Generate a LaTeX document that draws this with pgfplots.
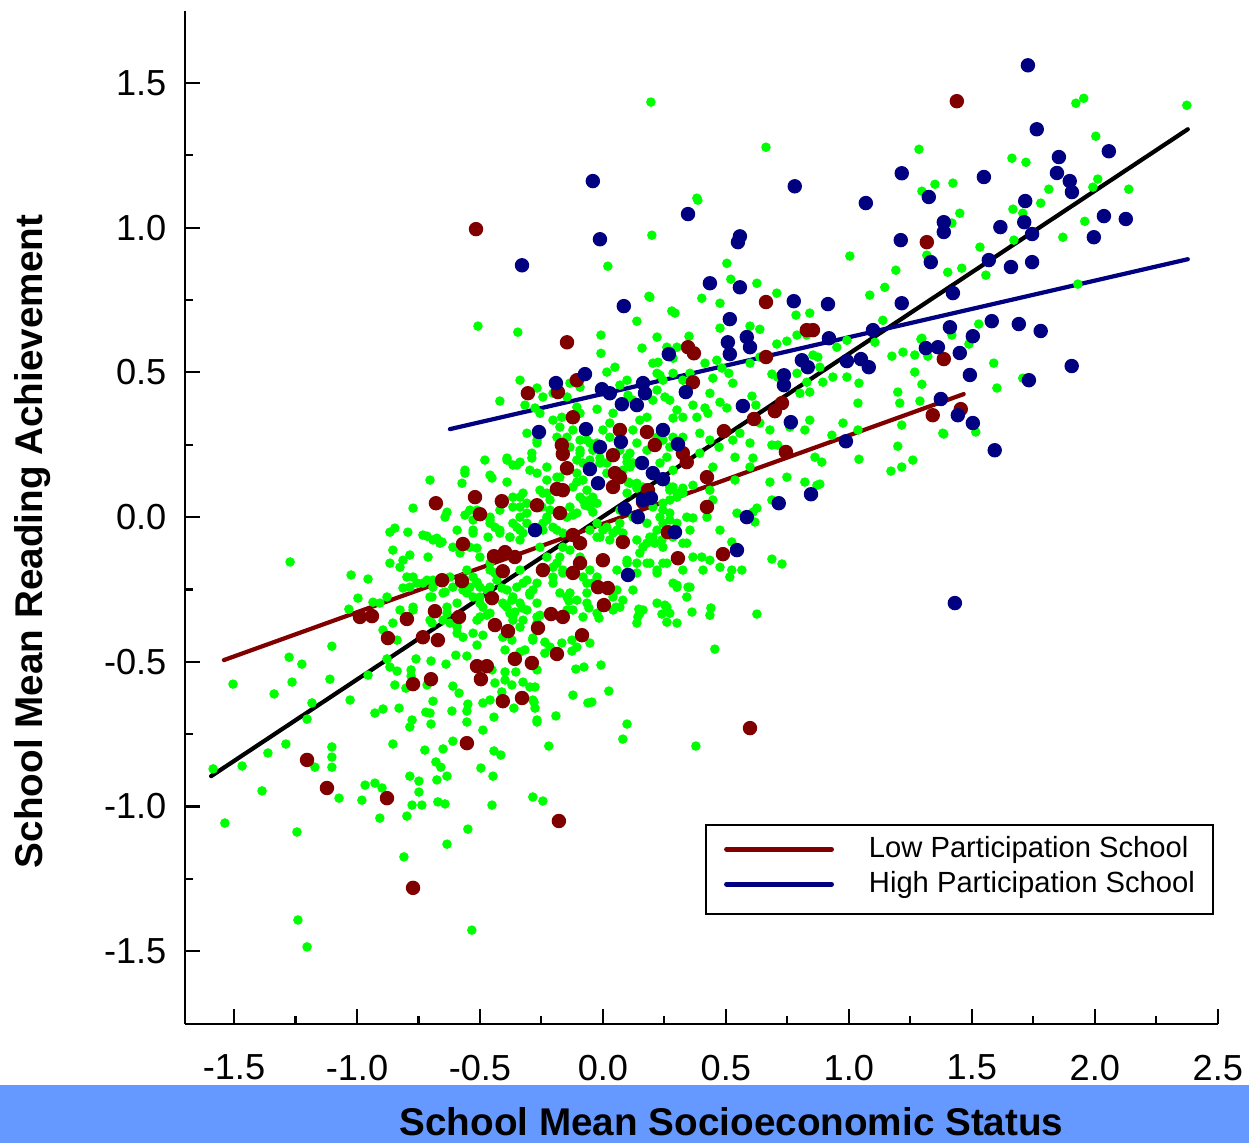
\documentclass[border=0pt]{standalone}
\usepackage{pgfplots}
\pgfplotsset{compat=1.18}
\usepackage{fontspec}
\setmainfont{Liberation Sans}
\definecolor{ptgreen}{RGB}{0,255,0}
\definecolor{ptred}{RGB}{128,0,0}
\definecolor{ptblue}{RGB}{0,0,128}
\definecolor{barblue}{RGB}{102,153,255}
\begin{document}
\begin{tikzpicture}
\fill[barblue] (0mm,-108.5mm) rectangle (124.9mm,-114.3mm);
\node[anchor=base, font=\fontsize{11}{13}\selectfont\bfseries] at (73.15mm,-113.5mm) {School Mean Socioeconomic Status};
\node[anchor=base, rotate=90, font=\fontsize{11}{13}\selectfont\bfseries] at (4.2mm,-54.15mm) {School Mean Reading Achievement};
\begin{axis}[
  at={(18.48mm,-102.36mm)}, anchor=south west,
  scale only axis, width=103.3mm, height=101.3mm,
  xmin=-1.7, xmax=2.5, ymin=-1.75, ymax=1.75,
  axis lines=left, axis line style={-, line width=0.6pt, black},
  xtick={-1.5,-1,-0.5,0,0.5,1,1.5,2,2.5},
  ytick={-1.5,-1,-0.5,0,0.5,1,1.5},
  minor tick num=1,
  tick align=inside,
  major tick length=1.5mm, minor tick length=0.8mm,
  every tick/.style={line width=0.6pt, black},
  ticklabel style={font=\fontsize{10.3}{12}\selectfont},
  xticklabel={\pgfmathprintnumber[fixed,fixed zerofill,precision=1,assume math mode=true]{\tick}},
  yticklabel={\pgfmathprintnumber[fixed,fixed zerofill,precision=1,assume math mode=true]{\tick}},
  xticklabel style={yshift=-1.9mm},
  yticklabel style={xshift=-0.6mm},
  clip=false,
  legend cell align=left,
  legend image code/.code={\draw[#1, line width=1.4pt] (0mm,0.3mm) -- (10.5mm,0.3mm);},
  legend style={at={(0.5036,0.107)}, anchor=south west, draw=black, line width=0.6pt, fill=white,
    inner xsep=1.8mm, inner ysep=1.35mm, font=\fontsize{8.3}{10}\selectfont,
    nodes={inner sep=0pt, text height=1.9mm, text depth=0.8mm},
    row sep=0.8mm, /tikz/every odd column/.append style={column sep=3.5mm}},
]
% all schools (green)
\addplot[only marks, mark=*, mark size=1.15pt, color=ptgreen, forget plot] coordinates {
(-1.272,-0.155) (-1.504,-0.577) (-1.585,-0.870) (-1.537,-1.057) (-1.337,-0.611) (-1.276,-0.484) (-1.224,-0.508) (-1.264,-0.570) (-1.102,-0.446) (-1.110,-0.560)
(-1.183,-0.642) (-1.203,-0.698) (-1.289,-0.784) (-1.362,-0.815) (-1.467,-0.860) (-1.386,-0.946) (-1.244,-1.088) (-1.102,-0.794) (-1.102,-0.829) (-1.102,-0.864)
(-1.171,-0.864) (-1.073,-0.971) (-0.980,-0.978) (-0.967,-0.926) (-0.927,-0.919) (-0.898,-0.936) (-0.907,-1.040) (-1.240,-1.392) (-1.203,-1.485) (-1.028,-0.632)
(-0.955,-0.546) (-0.927,-0.677) (-0.894,-0.663) (-0.829,-0.660) (-0.854,-0.784) (-0.785,-0.895) (-0.748,-0.912) (-0.748,-0.950) (-0.776,-0.995) (-0.736,-0.995)
(-0.797,-1.033) (-0.809,-1.174) (-0.671,-0.984) (-0.642,-0.991) (-0.675,-0.908) (-0.634,-0.895) (-0.679,-0.846) (-0.659,-0.864) (-0.724,-0.805) (-0.650,-0.801)
(-0.610,-0.774) (-0.634,-1.130) (-0.549,-1.078) (-0.533,-1.427) (-0.496,-0.867) (-0.447,-0.895) (-0.451,-0.995) (-0.443,-0.808) (-0.415,-0.822) (-0.285,-0.967)
(-0.785,-0.725) (-0.776,-0.701) (-0.699,-0.715) (-0.720,-0.674) (-0.703,-0.677) (-0.691,-0.636) (-0.715,-0.580) (-0.801,-0.591) (-0.846,-0.580) (-0.837,-0.532)
(-0.866,-0.518) (-0.780,-0.528) (-0.780,-0.549) (-0.699,-0.497) (-0.760,-0.490) (-0.878,-0.490) (-0.614,-0.670) (-0.585,-0.608) (-0.553,-0.670) (-0.549,-0.646)
(-0.553,-0.708) (-0.488,-0.736) (-0.610,-0.584) (-0.638,-0.508) (-0.598,-0.477) (-0.553,-0.480) (-0.488,-0.642) (-0.459,-0.632) (-0.443,-0.691) (-0.451,-0.528)
(-0.398,-0.535) (-0.354,-0.535) (-0.439,-0.573) (-0.398,-0.563) (-0.370,-0.580) (-0.411,-0.604) (-0.325,-0.570) (-0.297,-0.587) (-0.362,-0.660) (-0.285,-0.632)
(-0.268,-0.701) (-0.398,-0.459) (-0.337,-0.466) (-0.317,-0.459) (-0.407,-0.415) (-0.370,-0.425) (-0.285,-0.425) (-0.398,-0.304) (-0.358,-0.328) (-0.329,-0.314)
(-0.370,-0.287) (-0.297,-0.269) (-0.366,-0.356) (-0.337,-0.380) (-0.268,-0.345) (-0.411,-0.245) (-0.439,-0.193) (-0.411,-0.183) (-0.459,-0.242) (-0.500,-0.242)
(-0.488,-0.311) (-0.472,-0.339) (-0.512,-0.356) (-0.528,-0.401) (-0.488,-0.408) (-0.512,-0.442) (-0.593,-0.401) (-0.569,-0.415) (-0.622,-0.366) (-0.593,-0.380)
(-0.650,-0.356) (-0.634,-0.332) (-0.695,-0.276) (-0.642,-0.259) (-0.541,-0.242) (-0.512,-0.225) (-0.528,-0.276) (-0.610,-0.242) (-0.569,-0.252) (-0.703,-0.356)
(-0.622,-0.207) (-0.573,-0.211) (-0.715,-0.218) (-0.691,-0.218) (-0.772,-0.207) (-0.732,-0.228) (-0.813,-0.245) (-0.785,-0.242) (-0.825,-0.321) (-0.772,-0.321)
(-0.894,-0.390) (-0.837,-0.425) (-0.935,-0.294) (-0.996,-0.280) (-1.033,-0.318) (-1.024,-0.200) (-0.955,-0.214) (-0.866,-0.052) (-0.846,-0.038) (-0.793,-0.052)
(-0.813,-0.149) (-0.785,-0.131) (-0.711,-0.138) (-0.715,-0.066) (-0.675,-0.073) (-0.654,-0.086) (-0.610,-0.104) (-0.581,-0.124) (-0.528,-0.055) (-0.541,-0.104)
(-0.512,-0.107) (-0.459,-0.021) (-0.419,-0.055) (-0.378,-0.069) (-0.337,-0.079) (-0.325,-0.055)
(-0.346,0.639) (-0.008,0.629) (0.220,0.622) (0.159,0.584) (-0.008,0.566) (0.260,0.587) (0.285,0.549) (0.203,0.532) (0.049,0.518) (0.016,0.501)
(-0.337,0.473) (-0.268,0.446) (-0.419,0.401) (-0.317,0.387) (-0.276,0.377) (-0.256,0.359) (-0.167,0.345) (-0.024,0.373) (-0.106,0.380) (-0.093,0.359)
(0.098,0.473) (0.069,0.456) (0.102,0.421) (0.122,0.404) (0.232,0.490) (0.252,0.415) (0.272,0.404) (0.150,0.335) (0.179,0.345) (0.122,0.301)
(0.285,0.342) (0.301,0.370) (-0.309,0.290) (-0.268,0.266) (-0.289,0.221) (-0.289,0.204) (-0.390,0.204) (-0.350,0.180) (-0.337,0.190) (-0.480,0.197)
(-0.561,0.162) (-0.561,0.152) (-0.703,0.128) (-0.573,0.117) (-0.459,0.145) (-0.451,0.135) (-0.390,0.121) (-0.228,0.173) (-0.175,0.138) (-0.256,0.093)
(-0.228,0.083) (-0.093,0.221) (-0.081,0.187) (-0.106,0.121) (-0.053,0.197) (-0.012,0.204) (0.016,0.187) (0.098,0.190) (0.110,0.173) (0.102,0.121)
(0.138,0.117) (0.163,0.104) (0.232,0.187) (0.260,0.207) (0.285,0.162) (0.285,0.104) (0.301,0.069) (0.272,0.059) (-0.093,0.069) (-0.073,0.041)
(-0.053,0.059) (-0.024,0.048) (-0.041,0.017) (-0.122,0.007) (-0.215,0.024) (-0.228,0.000) (-0.244,-0.021) (-0.187,-0.045) (-0.163,-0.055) (-0.337,0.069)
(-0.309,0.048) (-0.366,0.035) (-0.337,0.000) (-0.309,-0.021) (-0.350,-0.035) (-0.459,0.000) (-0.439,-0.035) (-0.419,0.024) (-0.541,0.024) (-0.528,-0.010)
(-0.561,0.007) (-0.634,0.017) (-0.642,0.000) (-0.772,0.031) (-0.732,-0.062) (-0.691,-0.079) (-0.663,-0.090) (-0.500,-0.138) (-0.459,-0.159) (-0.553,-0.183)
(-0.528,-0.207) (-0.797,-0.207) (-0.756,-0.228) (-0.691,-0.242) (-0.650,-0.262) (-0.703,-0.276) (-0.772,-0.311) (-0.634,-0.311) (-0.593,-0.297) (-0.553,-0.262)
(-0.500,-0.276) (-0.500,-0.345) (-0.459,-0.332) (-0.390,-0.252) (-0.366,-0.276) (-0.390,-0.311) (-0.337,-0.297) (-0.325,-0.228) (-0.285,-0.252) (-0.268,-0.228)
(-0.366,-0.345) (-0.325,-0.356) (-0.268,-0.366) (-0.203,-0.228) (-0.175,-0.262) (-0.146,-0.276) (-0.203,-0.173) (-0.163,-0.193) (-0.175,-0.138) (-0.256,-0.104)
(-0.228,-0.138) (-0.081,-0.207) (-0.041,-0.228) (-0.065,-0.262) (-0.122,-0.321) (-0.081,-0.345) (-0.024,-0.332) (0.041,-0.276) (0.069,-0.311) (0.122,-0.252)
(0.098,-0.149) (0.138,-0.159) (0.150,-0.124) (0.179,-0.090) (0.203,-0.069) (0.244,-0.104) (0.179,-0.159) (0.220,-0.183) (0.260,-0.159) (0.285,-0.228)
(0.260,-0.311) (0.301,-0.366) (0.150,-0.332) (0.138,-0.366) (0.016,-0.035) (0.041,-0.055) (0.069,-0.021) (-0.024,-0.021) (-0.012,-0.069) (-0.163,-0.104)
(-0.134,-0.114) (-0.093,-0.138) (0.069,0.024) (0.122,0.000) (0.179,-0.021) (0.232,0.000) (0.272,-0.010) (0.285,-0.069) (0.244,0.024) (0.203,0.035)
(0.220,0.276) (0.244,0.266) (0.285,0.276) (-0.146,0.276) (-0.122,0.301) (-0.093,0.266) (-0.203,0.335) (-0.175,0.311) (-0.065,0.266) (-0.024,0.256)
(-0.041,0.231) (-0.146,0.415) (-0.093,0.449) (-0.134,0.463) (-0.203,0.428) (-0.244,0.415) (0.000,0.301) (0.028,0.325) (0.041,0.359) (-0.593,-0.045)
(-0.854,-0.114) (-0.866,-0.159) (-0.825,-0.173) (-0.907,-0.297) (-0.878,-0.276) (-0.854,-0.366) (-0.695,-0.366) (-0.593,-0.366)
(0.386,1.095) (0.199,0.974) (0.504,0.877) (1.004,0.902) (0.520,0.822) (0.626,0.808) (0.707,0.774) (0.402,0.756) (0.476,0.739) (0.191,0.760)
(1.085,0.767) (1.146,0.794) (1.191,0.853) (0.280,0.712) (0.293,0.705) (0.841,0.705) (0.785,0.698) (0.476,0.653) (0.598,0.660) (0.638,0.649)
(0.350,0.625) (0.301,0.587) (0.224,0.535) (0.415,0.532) (0.463,0.542) (0.484,0.515) (0.598,0.532) (0.638,0.553) (0.707,0.598) (0.748,0.608)
(0.789,0.629) (0.829,0.629) (0.854,0.560) (0.874,0.553) (0.951,0.587) (0.992,0.611) (1.106,0.604) (1.175,0.556) (1.220,0.570) (1.268,0.560)
(1.297,0.618) (1.268,0.501) (1.297,0.459) (1.402,0.846) (1.317,0.905) (1.138,0.680) (0.220,0.497) (0.244,0.473) (0.285,0.497) (0.354,0.497)
(0.325,0.473) (0.512,0.497) (0.528,0.463) (0.447,0.480) (0.435,0.428) (0.220,0.439) (0.203,0.404) (0.366,0.387) (0.415,0.377) (0.427,0.359)
(0.382,0.345) (0.325,0.345) (0.476,0.397) (0.504,0.377) (0.606,0.418) (0.622,0.387) (0.687,0.494) (0.711,0.484) (0.789,0.497) (0.829,0.466)
(0.841,0.432) (0.801,0.428) (0.882,0.518) (0.935,0.484) (0.894,0.466) (0.992,0.484) (1.041,0.463) (0.841,0.335) (0.821,0.301) (0.760,0.311)
(0.679,0.301) (0.638,0.325) (0.557,0.290) (0.528,0.266) (0.598,0.256) (0.472,0.242) (0.435,0.266) (0.394,0.290) (0.394,0.221) (0.447,0.173)
(0.366,0.110) (0.435,0.093) (0.447,0.059) (0.537,0.207) (0.610,0.204) (0.598,0.173) (0.687,0.249) (0.711,0.249) (0.537,0.128) (0.679,0.121)
(0.748,0.138) (0.821,0.121) (0.870,0.110) (0.862,0.207) (0.890,0.190) (0.931,0.283) (0.976,0.325) (1.037,0.301) (1.041,0.200) (1.037,0.394)
(1.199,0.245) (1.215,0.318) (1.199,0.432) (1.207,0.394) (1.171,0.159) (1.215,0.173) (1.260,0.197) (1.382,0.290) (0.610,0.017) (0.626,0.031)
(0.545,0.014) (0.618,-0.017) (0.687,0.059) (0.272,0.093) (0.325,0.083) (0.423,0.000) (0.366,-0.003) (0.476,-0.045) (0.524,-0.086) (0.211,-0.090)
(0.240,-0.079) (0.325,-0.090) (0.402,-0.138) (0.435,-0.149) (0.407,-0.183) (0.476,-0.173) (0.524,-0.183) (0.565,-0.183) (0.516,-0.207) (0.687,-0.145)
(0.728,-0.162) (0.301,-0.235) (0.346,-0.242) (0.341,-0.276)
(-0.138,-0.290) (-0.065,-0.297) (-0.057,-0.314) (0.053,-0.311) (0.146,-0.318) (0.142,-0.345) (0.252,-0.304) (0.240,-0.335) (0.260,-0.363) (0.362,-0.328)
(0.439,-0.314) (0.435,-0.339) (0.626,-0.335) (0.455,-0.456) (-0.016,-0.349) (-0.256,-0.339) (-0.285,-0.418) (-0.236,-0.432) (-0.215,-0.449) (-0.167,-0.435)
(-0.236,-0.470) (-0.126,-0.425) (-0.106,-0.449) (-0.126,-0.463) (-0.053,-0.435) (-0.268,-0.528) (-0.110,-0.525) (-0.077,-0.518) (-0.008,-0.511) (-0.276,-0.587)
(-0.122,-0.615) (-0.061,-0.642) (-0.045,-0.639) (0.024,-0.601) (-0.280,-0.639) (-0.276,-0.660) (-0.191,-0.687) (-0.268,-0.708) (0.098,-0.715) (0.081,-0.767)
(-0.220,-0.791) (0.378,-0.791) (-0.244,-0.981)
(0.195,1.434) (0.382,1.102) (0.020,0.867) (0.187,0.763) (0.138,0.677) (-0.508,0.660) (0.663,1.278)
(2.374,1.423) (1.923,1.430) (1.955,1.447) (2.004,1.316) (1.285,1.271) (1.663,1.240) (1.720,1.226) (1.350,1.150) (1.423,1.154) (1.297,1.126)
(1.813,1.133) (1.780,1.085) (1.667,1.064) (1.707,1.050) (2.012,1.168) (1.992,1.140) (2.138,1.133) (1.451,1.050) (1.419,1.016) (1.959,1.022)
(1.870,0.967) (1.671,0.957) (1.533,0.933) (1.459,0.860) (1.557,0.836) (1.931,0.805) (1.528,0.667) (1.419,0.629) (1.488,0.598) (1.293,0.615)
(1.321,0.556) (1.589,0.532) (1.602,0.446) (1.707,0.480) (1.289,0.401) (1.386,0.287) (1.516,0.294) (0.882,0.114)
(-0.390,0.197) (-0.366,0.180) (-0.268,0.152) (-0.297,0.162) (-0.228,0.128) (-0.187,0.138) (-0.106,0.152) (-0.081,0.128) (-0.122,0.104) (-0.065,0.093)
(-0.041,0.069) (-0.081,0.059) (-0.053,0.035) (-0.106,0.197) (-0.012,0.187) (0.016,0.152) (0.098,0.207) (0.122,0.187) (0.081,0.162) (0.110,0.117)
(0.138,0.100) (0.098,0.083) (0.272,0.104) (0.301,0.083) (0.325,0.100) (0.244,0.048) (0.272,0.014) (-0.366,0.069) (-0.325,0.083) (-0.337,0.035)
(-0.309,0.014) (-0.244,0.083) (-0.215,0.059) (-0.248,0.035) (-0.134,0.035) (-0.106,0.014) (-0.146,0.000) (-0.228,-0.010) (-0.203,-0.035) (-0.244,-0.045)
(-0.366,-0.021) (-0.337,-0.045) (-0.378,-0.069) (-0.459,-0.010) (-0.419,-0.045) (-0.467,-0.069) (-0.512,0.024) (-0.528,-0.045) (-0.053,-0.045) (-0.024,-0.069)
(0.000,-0.045) (0.028,-0.079) (0.057,-0.045) (0.081,-0.055) (0.138,-0.079) (0.163,-0.104) (0.191,-0.069) (0.220,-0.045) (0.244,-0.021) (0.301,-0.021)
(0.341,0.000) (0.354,-0.045) (0.341,-0.090) (0.366,-0.138) (0.191,-0.159) (0.244,-0.159) (0.220,-0.193) (0.057,-0.183) (0.098,-0.159) (0.138,-0.193)
(-0.053,-0.183) (-0.024,-0.207) (-0.065,-0.228) (-0.187,-0.159) (-0.163,-0.183) (-0.203,-0.207) (-0.337,-0.183) (-0.309,-0.218) (-0.350,-0.242) (-0.459,-0.183)
(-0.431,-0.218) (-0.472,-0.252) (-0.297,-0.262) (-0.268,-0.297) (-0.309,-0.321) (-0.134,-0.262) (-0.106,-0.287) (-0.146,-0.321) (0.057,-0.252) (0.081,-0.287)
(0.041,-0.321) (0.163,-0.321) (0.220,-0.297) (0.272,-0.332) (0.325,-0.183) (0.354,-0.242) (0.301,-0.242) (-0.512,-0.228) (-0.500,-0.297) (-0.407,-0.297)
(-0.378,-0.332) (-0.268,0.256) (-0.187,0.276) (-0.134,0.242) (-0.093,0.231) (-0.053,0.256) (0.028,0.276) (0.069,0.231) (0.138,0.256) (0.179,0.231)
(0.110,0.221) (0.272,0.242) (0.325,0.276)
};
% low participation schools (red)
\addplot[only marks, mark=*, mark size=1.85pt, color=ptred, forget plot] coordinates {
(-0.516,0.995) (1.439,1.437) (1.317,0.950) (-0.146,0.604) (0.663,0.743) (0.829,0.646) (0.854,0.646) (-0.106,0.473) (-0.183,0.432) (-0.305,0.428)
(0.346,0.587) (0.370,0.566) (0.663,0.553) (1.386,0.546) (1.341,0.352) (1.455,0.373) (-0.122,0.345) (0.728,0.394) (0.699,0.366) (0.614,0.339)
(0.744,0.225) (-0.167,0.249) (-0.163,0.218) (-0.146,0.169) (0.041,0.214) (0.049,0.152) (0.069,0.138) (0.041,0.104) (0.069,0.301) (0.179,0.294)
(0.211,0.249) (0.366,0.466) (0.492,0.297) (0.325,0.221) (0.341,0.190) (0.423,0.138) (0.423,0.035) (0.183,0.093) (0.163,0.052) (-0.187,0.097)
(-0.163,0.093) (-0.268,0.041) (-0.175,0.014) (-0.520,0.069) (-0.500,0.010) (-0.411,0.055) (-0.679,0.048) (-0.569,-0.093) (-0.443,-0.135) (-0.398,-0.121)
(-0.358,-0.138) (-0.407,-0.187) (-0.654,-0.218) (-0.573,-0.221) (-0.451,-0.280) (-0.244,-0.183) (-0.122,-0.062) (-0.093,-0.090) (-0.093,-0.159) (-0.122,-0.193)
(0.000,-0.149) (0.081,-0.086) (0.264,-0.052) (0.305,-0.142) (0.488,-0.128) (-0.020,-0.242) (0.020,-0.245) (0.004,-0.304) (-0.211,-0.335) (-0.163,-0.345)
(-0.264,-0.383) (-0.085,-0.408) (-0.187,-0.473) (-0.289,-0.504) (-0.988,-0.345) (-0.939,-0.342) (-0.797,-0.352) (-0.683,-0.325) (-0.585,-0.345) (-0.874,-0.418)
(-0.732,-0.415) (-0.671,-0.425) (-0.439,-0.373) (-0.386,-0.394) (-0.358,-0.490) (-0.512,-0.515) (-0.472,-0.515) (-0.496,-0.560) (-0.772,-0.577) (-0.699,-0.560)
(-0.407,-0.636) (-0.329,-0.625) (-1.203,-0.839) (-1.122,-0.936) (-0.878,-0.971) (-0.553,-0.781) (-0.772,-1.281) (0.598,-0.729) (-0.179,-1.050)
};
% high participation schools (blue)
\addplot[only marks, mark=*, mark size=1.85pt, color=ptblue, forget plot] coordinates {
(1.728,1.561) (1.764,1.340) (-0.041,1.161) (0.780,1.143) (1.069,1.085) (1.215,1.188) (1.854,1.244) (1.846,1.189) (1.898,1.161) (1.907,1.123)
(2.057,1.264) (2.037,1.040) (2.126,1.030) (1.996,0.967) (1.549,1.175) (1.325,1.106) (1.386,1.019) (1.386,0.985) (1.616,1.002) (1.717,1.092)
(1.713,1.019) (1.745,0.978) (1.569,0.888) (1.659,0.864) (1.745,0.881) (1.333,0.881) (1.211,0.957) (1.423,0.774) (1.215,0.739) (1.411,0.656)
(1.581,0.677) (1.691,0.667) (1.780,0.643) (1.504,0.625) (1.313,0.584) (1.362,0.587) (1.451,0.567) (1.492,0.491) (1.906,0.522) (1.732,0.473)
(1.374,0.408) (1.443,0.352) (1.504,0.325) (1.593,0.231) (1.431,-0.297) (0.346,1.047) (0.557,0.970) (0.549,0.950) (0.435,0.808) (0.557,0.794)
(0.776,0.746) (0.915,0.736) (0.516,0.684) (0.508,0.604) (0.516,0.563) (0.585,0.622) (0.598,0.587) (0.268,0.563) (0.919,0.618) (1.098,0.646)
(0.809,0.542) (0.833,0.518) (0.992,0.539) (1.049,0.546) (1.081,0.518) (0.736,0.490) (0.736,0.456) (0.337,0.432) (0.569,0.384) (0.764,0.328)
(0.244,0.301) (0.305,0.252) (0.203,0.152) (0.244,0.131) (0.988,0.262) (0.846,0.079) (0.715,0.048) (0.585,0.000) (0.293,-0.052) (0.545,-0.114)
(0.163,0.059) (0.195,0.066) (-0.073,0.494) (-0.191,0.463) (-0.004,0.442) (0.028,0.428) (0.163,0.463) (0.171,0.428) (0.077,0.390) (0.138,0.387)
(-0.260,0.294) (-0.069,0.304) (-0.012,0.242) (0.073,0.260) (-0.053,0.166) (-0.020,0.117) (0.159,0.187) (0.089,0.028) (0.142,0.000) (-0.276,-0.045)
(0.102,-0.200) (-0.012,0.960) (-0.329,0.870) (0.085,0.729)
};
% regression lines
\addplot[black, line width=1.2pt, line cap=round, forget plot] coordinates {(-1.593,-0.895) (2.378,1.340)};
\addplot[ptred, line width=1.2pt, line cap=round] coordinates {(-1.541,-0.494) (1.467,0.425)};
\addplot[ptblue, line width=1.2pt, line cap=round] coordinates {(-0.622,0.304) (2.378,0.891)};
\legend{Low Participation School, High Participation School}
\end{axis}
\pgfresetboundingbox
\useasboundingbox (0mm,0mm) rectangle (124.9mm,-114.3mm);
\end{tikzpicture}
\end{document}
